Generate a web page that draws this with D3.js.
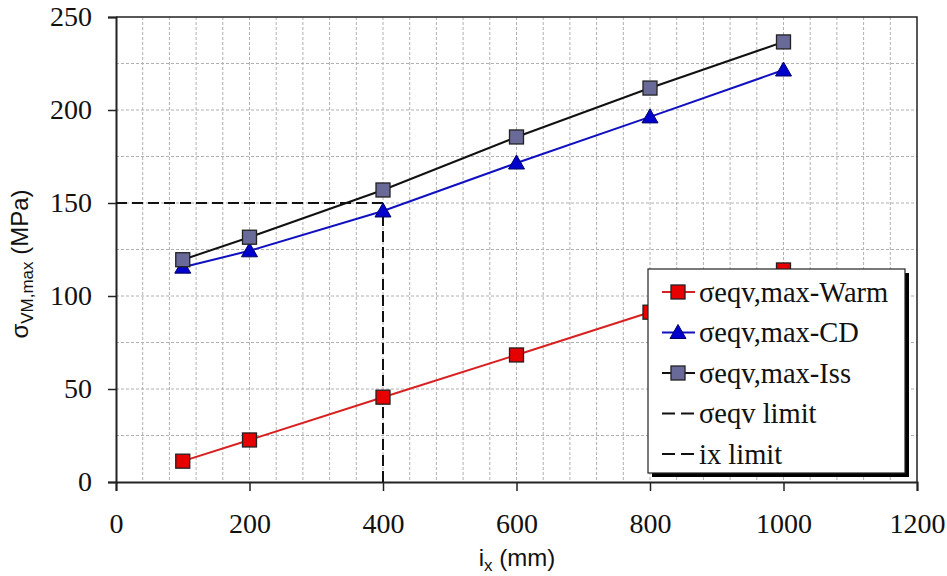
<!DOCTYPE html>
<html>
<head>
<meta charset="utf-8">
<script src="https://cdn.jsdelivr.net/npm/d3@7"></script>
<style>
  body { margin: 0; background: #fff; }
  .tick text { font-family: "Liberation Serif", "Times New Roman", serif; font-size: 28px; fill: #111; }
  .title { font-family: "Liberation Sans", Arial, sans-serif; font-size: 24px; fill: #111; }
  .leg { font-family: "Liberation Serif", "Times New Roman", serif; font-size: 28.5px; fill: #111; }
</style>
</head>
<body>
<svg id="chart" width="947" height="576"></svg>
<script>
// x positions (mm)
const ix = [100, 200, 400, 600, 800, 1000]
// series values (MPa)
const warm = [11.2, 22.6, 45.6, 68.3, 91.3, 114]
const cd = [115.5, 124.3, 145.7, 171.5, 196.3, 221.5]
const iss = [119.5, 131.6, 157, 185.5, 211.8, 236.6]
// limit values
const sigmaLimit = 150
const ixLimit = 400
const xTicks = [0, 200, 400, 600, 800, 1000, 1200]
const yTicks = [0, 50, 100, 150, 200, 250]
const legendLabels = ["σeqv,max-Warm", "σeqv,max-CD", "σeqv,max-Iss", "σeqv limit", "ix limit"]

let svg = d3.select("#chart"),
    margin = {left: 116, top: 17, right: 30, bottom: 94},
    width = +svg.attr("width") - margin.left - margin.right,
    height = +svg.attr("height") - margin.top - margin.bottom,
    focus = svg.append("g")
               .attr("transform", "translate(" + margin.left + "," + margin.top + ")")

let x = d3.scaleLinear().domain([0, 1200]).range([0, width])
let y = d3.scaleLinear().domain([0, 250]).range([height, 0])

// dashed grid, every 40 mm and 25 MPa
let grid = focus.append("g")
grid.selectAll(".gx")
    .data(d3.range(40, 1200, 40))
    .join("line")
    .attr("x1", d => x(d)).attr("x2", d => x(d))
    .attr("y1", 0).attr("y2", height)
grid.selectAll(".gy")
    .data(d3.range(25, 250, 25))
    .join("line")
    .attr("class", "gy")
    .attr("x1", 0).attr("x2", width)
    .attr("y1", d => y(d)).attr("y2", d => y(d))
grid.selectAll("line")
    .attr("stroke", "#b0b0b0")
    .attr("stroke-width", 1)
    .attr("stroke-dasharray", "3,2")

// frame top/right
focus.append("path")
     .attr("d", `M0,0H${width}V${height}`)
     .attr("fill", "none")
     .attr("stroke", "#222")
     .attr("stroke-width", 1.5)

// axes
focus.append("g")
     .attr("transform", "translate(0," + height + ")")
     .call(d3.axisBottom(x).tickValues(xTicks).tickSize(9).tickPadding(22).tickFormat(d3.format("d")))
     .call(g => g.select(".domain").attr("stroke", "#222").attr("stroke-width", 2))
     .call(g => g.selectAll(".tick line").attr("stroke", "#222").attr("stroke-width", 1.5))

focus.append("g")
     .call(d3.axisLeft(y).tickValues(yTicks).tickSize(8).tickPadding(16).tickFormat(d3.format("d")))
     .call(g => g.select(".domain").attr("stroke", "#222").attr("stroke-width", 2))
     .call(g => g.selectAll(".tick line").attr("stroke", "#222").attr("stroke-width", 1.5))

// limit lines
focus.append("line")
     .attr("x1", x(0)).attr("x2", x(ixLimit))
     .attr("y1", y(sigmaLimit)).attr("y2", y(sigmaLimit))
     .attr("stroke", "#111").attr("stroke-width", 2).attr("stroke-dasharray", "11,5")
focus.append("line")
     .attr("x1", x(ixLimit)).attr("x2", x(ixLimit))
     .attr("y1", y(0)).attr("y2", y(sigmaLimit))
     .attr("stroke", "#111").attr("stroke-width", 2).attr("stroke-dasharray", "11,5")

let series = [
  {vals: warm, line: "#d92020", fill: "#e60000", shape: "square"},
  {vals: cd, line: "#1010c0", fill: "#0000cc", shape: "triangle"},
  {vals: iss, line: "#111", fill: "#6a6a98", shape: "square"}
]

let line = d3.line()
             .x((d, i) => x(ix[i]))
             .y(d => y(d))

function marker(g, s, cx, cy){
  if(s.shape == "square"){
    g.append("rect")
     .attr("x", cx - 7).attr("y", cy - 7)
     .attr("width", 14).attr("height", 14)
     .attr("fill", s.fill).attr("stroke", "#222").attr("stroke-width", 1.3)
  } else {
    g.append("path")
     .attr("d", `M${cx},${cy - 8}L${cx + 8},${cy + 6}L${cx - 8},${cy + 6}Z`)
     .attr("fill", s.fill).attr("stroke", "#000066").attr("stroke-width", 1)
  }
}

series.forEach(s => {
  focus.append("path")
       .datum(s.vals)
       .attr("d", line)
       .attr("fill", "none")
       .attr("stroke", s.line)
       .attr("stroke-width", 2)
  let mg = focus.append("g")
  s.vals.forEach((v, i) => marker(mg, s, x(ix[i]), y(v)))
})

// legend
let lg = svg.append("g").attr("transform", "translate(648,269)")
lg.append("rect")
  .attr("x", 4).attr("y", 4).attr("width", 257).attr("height", 204)
  .attr("fill", "#000")
lg.append("rect")
  .attr("x", 0).attr("y", 0).attr("width", 257).attr("height", 204)
  .attr("fill", "#fff").attr("stroke", "#222").attr("stroke-width", 1.2)

legendLabels.forEach((lab, i) => {
  let cy = 23 + i * 40.5
  let row = lg.append("g")
  if(i < 3){
    let s = series[i]
    row.append("line")
       .attr("x1", 14).attr("x2", 47).attr("y1", cy).attr("y2", cy)
       .attr("stroke", s.line).attr("stroke-width", 2)
    marker(row, s, 30, cy)
  } else {
    row.append("line")
       .attr("x1", 14).attr("x2", 48).attr("y1", cy).attr("y2", cy)
       .attr("stroke", "#111").attr("stroke-width", 2).attr("stroke-dasharray", "13,6")
  }
  row.append("text")
     .attr("class", "leg")
     .attr("x", 51).attr("y", cy).attr("dy", "0.35em")
     .text(lab)
})

// axis titles
let xt = svg.append("text")
            .attr("class", "title")
            .attr("text-anchor", "middle")
            .attr("x", 517)
            .attr("y", 566)
xt.append("tspan").text("i")
xt.append("tspan").attr("font-size", "17px").attr("dy", 5).text("x")
xt.append("tspan").attr("dy", -5).text(" (mm)")

let yt = svg.append("text")
            .attr("class", "title")
            .attr("text-anchor", "middle")
            .attr("transform", "translate(28,264) rotate(-90)")
yt.append("tspan").text("σ")
yt.append("tspan").attr("font-size", "17px").attr("dy", 5).text("VM,max")
yt.append("tspan").attr("dy", -5).text(" (MPa)")
</script>
</body>
</html>
